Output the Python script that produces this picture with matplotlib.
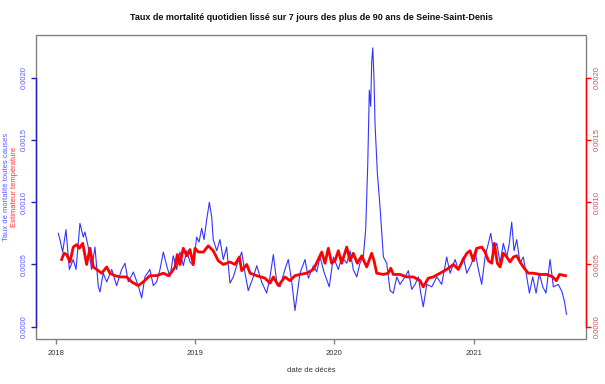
import matplotlib
matplotlib.use("Agg")

import matplotlib.dates as mdates
import matplotlib.pyplot as plt
import numpy as np
import pandas as pd
from matplotlib.patches import Rectangle


# daily mortality rate (7-day smoothed), decimal years
blue_years = [
    2018.019, 2018.031, 2018.050, 2018.074, 2018.098, 2018.126, 2018.146, 2018.174,
    2018.198, 2018.210, 2018.234, 2018.258, 2018.282, 2018.306, 2018.318, 2018.341,
    2018.366, 2018.402, 2018.437, 2018.473, 2018.497, 2018.521, 2018.557, 2018.592,
    2018.617, 2018.640, 2018.676, 2018.700, 2018.724, 2018.748, 2018.772, 2018.796,
    2018.820, 2018.843, 2018.868, 2018.891, 2018.915, 2018.940, 2018.963, 2018.987,
    2019.011, 2019.028, 2019.047, 2019.064, 2019.083, 2019.102, 2019.119, 2019.130,
    2019.155, 2019.178, 2019.202, 2019.226, 2019.250, 2019.274, 2019.298, 2019.334,
    2019.358, 2019.381, 2019.417, 2019.442, 2019.477, 2019.513, 2019.537, 2019.561,
    2019.585, 2019.609, 2019.644, 2019.668, 2019.693, 2019.716, 2019.740, 2019.752,
    2019.788, 2019.812, 2019.848, 2019.872, 2019.896, 2019.924, 2019.962, 2019.991,
    2020.027, 2020.051, 2020.087, 2020.111, 2020.134, 2020.159, 2020.182, 2020.206,
    2020.223, 2020.238, 2020.249, 2020.259, 2020.266, 2020.274, 2020.283, 2020.290,
    2020.307, 2020.326, 2020.350, 2020.374, 2020.398, 2020.421, 2020.446, 2020.469,
    2020.505, 2020.529, 2020.553, 2020.577, 2020.601, 2020.618, 2020.636, 2020.661,
    2020.697, 2020.733, 2020.768, 2020.804, 2020.828, 2020.864, 2020.887, 2020.923,
    2020.948, 2020.983, 2021.007, 2021.031, 2021.055, 2021.079, 2021.103, 2021.120,
    2021.139, 2021.163, 2021.187, 2021.210, 2021.235, 2021.253, 2021.270, 2021.287,
    2021.306, 2021.330, 2021.353, 2021.378, 2021.397, 2021.421, 2021.445, 2021.468,
    2021.493, 2021.516, 2021.545, 2021.569, 2021.604, 2021.631, 2021.649, 2021.663,
]
blue_vals = [
    0.00075, 0.00070, 0.00060, 0.00078, 0.00046, 0.00054, 0.00046, 0.00083,
    0.00072, 0.00076, 0.00064, 0.00046, 0.00064, 0.00032, 0.00028, 0.00043,
    0.00036, 0.00046, 0.00033, 0.00046, 0.00051, 0.00036, 0.00044, 0.00033,
    0.00023, 0.00040, 0.00046, 0.00033, 0.00036, 0.00046, 0.00060, 0.00049,
    0.00040, 0.00057, 0.00046, 0.00060, 0.00049, 0.00061, 0.00052, 0.00049,
    0.00072, 0.00068, 0.00079, 0.00070, 0.00086, 0.00100, 0.00088, 0.00070,
    0.00061, 0.00070, 0.00054, 0.00064, 0.00035, 0.00040, 0.00049, 0.00060,
    0.00043, 0.00029, 0.00040, 0.00049, 0.00036, 0.00027, 0.00040, 0.00058,
    0.00036, 0.00032, 0.00046, 0.00054, 0.00036, 0.00013, 0.00033, 0.00043,
    0.00054, 0.00039, 0.00049, 0.00044, 0.00056, 0.00044, 0.00032, 0.00056,
    0.00046, 0.00056, 0.00051, 0.00061, 0.00046, 0.00040, 0.00051, 0.00056,
    0.00078, 0.00131, 0.00190, 0.00177, 0.00212, 0.00224, 0.00198, 0.00163,
    0.00123, 0.00096, 0.00056, 0.00051, 0.00029, 0.00027, 0.00040, 0.00034,
    0.00040, 0.00045, 0.00030, 0.00034, 0.00040, 0.00027, 0.00016, 0.00034,
    0.00032, 0.00040, 0.00034, 0.00056, 0.00043, 0.00054, 0.00046, 0.00056,
    0.00043, 0.00051, 0.00061, 0.00046, 0.00034, 0.00056, 0.00067, 0.00075,
    0.00061, 0.00067, 0.00051, 0.00067, 0.00056, 0.00067, 0.00084, 0.00061,
    0.00070, 0.00051, 0.00056, 0.00040, 0.00027, 0.00040, 0.00027, 0.00043,
    0.00032, 0.00027, 0.00054, 0.00032, 0.00034, 0.00028, 0.00020, 0.00010,
]

# temperature-based estimator
red_years = [
    2018.043, 2018.060, 2018.079, 2018.103, 2018.126, 2018.151, 2018.169, 2018.194,
    2018.222, 2018.246, 2018.270, 2018.294, 2018.330, 2018.366, 2018.389, 2018.425,
    2018.461, 2018.509, 2018.545, 2018.592, 2018.628, 2018.676, 2018.724, 2018.772,
    2018.808, 2018.832, 2018.856, 2018.872, 2018.891, 2018.915, 2018.940, 2018.963,
    2018.987, 2018.999, 2019.023, 2019.059, 2019.094, 2019.130, 2019.166, 2019.202,
    2019.250, 2019.286, 2019.317, 2019.334, 2019.370, 2019.394, 2019.442, 2019.501,
    2019.537, 2019.561, 2019.597, 2019.644, 2019.680, 2019.716, 2019.752, 2019.800,
    2019.848, 2019.883, 2019.908, 2019.931, 2019.955, 2019.979, 2020.003, 2020.027,
    2020.051, 2020.087, 2020.111, 2020.134, 2020.163, 2020.195, 2020.230, 2020.266,
    2020.283, 2020.302, 2020.350, 2020.385, 2020.403, 2020.421, 2020.469, 2020.517,
    2020.565, 2020.613, 2020.636, 2020.672, 2020.708, 2020.756, 2020.804, 2020.852,
    2020.887, 2020.923, 2020.948, 2020.971, 2020.995, 2021.019, 2021.055, 2021.079,
    2021.103, 2021.127, 2021.146, 2021.167, 2021.187, 2021.210, 2021.235, 2021.258,
    2021.282, 2021.306, 2021.330, 2021.353, 2021.389, 2021.425, 2021.473, 2021.521,
    2021.565, 2021.590, 2021.613, 2021.656,
]
red_vals = [
    0.00054, 0.00059, 0.00058, 0.00052, 0.00064, 0.00066, 0.00063, 0.00067,
    0.00050, 0.00063, 0.00048, 0.00046, 0.00043, 0.00048, 0.00043, 0.00041,
    0.00040, 0.00040, 0.00036, 0.00033, 0.00036, 0.00041, 0.00041, 0.00043,
    0.00041, 0.00044, 0.00048, 0.00058, 0.00050, 0.00063, 0.00057, 0.00062,
    0.00050, 0.00063, 0.00060, 0.00060, 0.00065, 0.00061, 0.00053, 0.00050,
    0.00052, 0.00050, 0.00056, 0.00045, 0.00050, 0.00043, 0.00041, 0.00039,
    0.00035, 0.00040, 0.00033, 0.00040, 0.00037, 0.00041, 0.00042, 0.00043,
    0.00046, 0.00054, 0.00060, 0.00051, 0.00063, 0.00051, 0.00053, 0.00061,
    0.00051, 0.00064, 0.00053, 0.00059, 0.00051, 0.00057, 0.00048, 0.00059,
    0.00053, 0.00043, 0.00042, 0.00043, 0.00047, 0.00042, 0.00042, 0.00040,
    0.00040, 0.00037, 0.00032, 0.00039, 0.00040, 0.00043, 0.00046, 0.00050,
    0.00046, 0.00054, 0.00059, 0.00061, 0.00053, 0.00063, 0.00064, 0.00060,
    0.00053, 0.00051, 0.00067, 0.00051, 0.00048, 0.00059, 0.00056, 0.00052,
    0.00056, 0.00057, 0.00052, 0.00048, 0.00043, 0.00043, 0.00042, 0.00042,
    0.00040, 0.00037, 0.00042, 0.00041,
]

y_ticks = [0.0, 0.0005, 0.0010, 0.0015, 0.0020]
y_ticklabels = ["0.0000", "0.0005", "0.0010", "0.0015", "0.0020"]
x_ticks = ["2018-01-01", "2019-01-01", "2020-01-01", "2021-01-01"]

TITLE = "Taux de mortalité quotidien lissé sur 7 jours des plus de 90 ans de Seine-Saint-Denis"
BLUE_LABEL = "Taux de mortalité toutes causes"
RED_LABEL = "Estimateur température"


def to_dates(years):
    years = np.asarray(years, dtype=float)
    start = pd.Timestamp("2018-01-01")
    return start + pd.to_timedelta((years - 2018) * 365.25, unit="D")


plt.rcParams["font.family"] = ["Liberation Sans", "DejaVu Sans"]

W, H = 605, 384
fig = plt.figure(figsize=(W / 100, H / 100), dpi=100)
left, right, top, bottom = 36, 586.3, 35.3, 339.3
ax = fig.add_axes([left / W, 1 - bottom / H, (right - left) / W, (bottom - top) / H])
ax2 = ax.twinx()

ax.plot(to_dates(blue_years), blue_vals, color="#1010ff", lw=0.8, alpha=0.85, zorder=2)
ax2.plot(to_dates(red_years), red_vals, color="#ff0000", lw=2.0, zorder=3)

ylim = (-0.000101, 0.002341)
ax.set_ylim(*ylim)
ax2.set_ylim(*ylim)
ax.set_xlim(to_dates([2017.859])[0], to_dates([2021.805])[0])

# grey frame, coloured axis lines drawn over it
for a in (ax, ax2):
    for s in a.spines.values():
        s.set_visible(False)
ax.add_patch(Rectangle((0, 0), 1, 1, transform=ax.transAxes, fill=False,
                       edgecolor="#808080", lw=1.0, zorder=5, clip_on=False))
ax.spines["left"].set_visible(True)
ax.spines["left"].set_bounds(0.0, 0.002)
ax.spines["left"].set_color("#2020b0")
ax.spines["left"].set_linewidth(1.0)
ax.spines["left"].set_zorder(6)
ax2.spines["right"].set_visible(True)
ax2.spines["right"].set_bounds(0.0, 0.002)
ax2.spines["right"].set_color("#ff0000")
ax2.spines["right"].set_linewidth(1.0)

ax.set_yticks(y_ticks)
ax.set_yticklabels(y_ticklabels, rotation=90, va="center")
ax.tick_params(axis="y", colors="#2020b0", labelcolor="#5a5aff", labelsize=5.5,
               length=3.6, width=1.0, pad=2)
ax2.set_yticks(y_ticks)
ax2.set_yticklabels(y_ticklabels, rotation=90, va="center")
ax2.tick_params(axis="y", colors="#ff0000", labelcolor="#c05858", labelsize=5.5,
                length=3.6, width=1.0, pad=2)

ax.set_xticks(pd.to_datetime(x_ticks))
ax.xaxis.set_major_formatter(mdates.DateFormatter("%Y"))
ax.tick_params(axis="x", colors="#808080", labelcolor="#333333", labelsize=5.5,
               length=3.6, width=1.0, pad=4)

fig.text((left + right) / 2 / W, 1 - 17 / H, TITLE, ha="center", va="center",
         fontsize=6.5, fontweight="bold", color="#111111")
fig.text((left + right) / 2 / W, 1 - 370 / H, "date de décès", ha="center",
         va="center", fontsize=5.5, color="#333333")
ymid = 1 - (top + bottom) / 2 / H
fig.text(7 / W, ymid, BLUE_LABEL, rotation=90, ha="center", va="center",
         fontsize=5.5, color="#5a5aff")
fig.text(15 / W, ymid, RED_LABEL, rotation=90, ha="center", va="center",
         fontsize=5.5, color="#ff3030")

fig.savefig("out.png", dpi=100)
plt.close(fig)
